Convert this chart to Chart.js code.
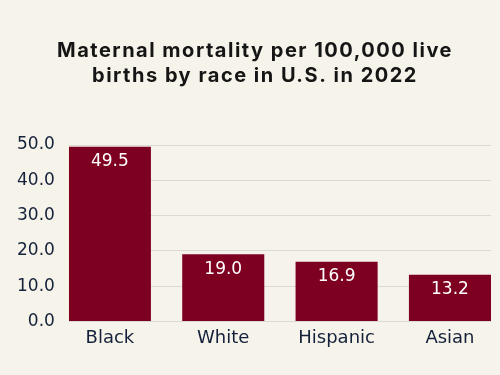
<!DOCTYPE html>
<html>
<head>
<meta charset="utf-8">
<script src="https://cdn.jsdelivr.net/npm/chart.js@4"></script>
<style>
html,body{margin:0;padding:0;background:#f6f3ea;}
#wrap{width:500px;height:375px;}
</style>
</head>
<body>
<div id="wrap"><canvas id="c" width="500" height="375"></canvas></div>
<script>
const categories = ["Black", "White", "Hispanic", "Asian"];
const values = [49.5, 19.0, 16.9, 13.2];
const yTicks = [0, 10, 20, 30, 40, 50];
const titleLines = ["Maternal mortality per 100,000 live", "births by race in U.S. in 2022"];

const bg = {
  id: 'bg',
  beforeDraw(chart) {
    const ctx = chart.ctx;
    ctx.save();
    ctx.fillStyle = '#f6f3ea';
    ctx.fillRect(0, 0, chart.width, chart.height);
    ctx.restore();
    const tb = chart.titleBlock;
    if (tb && !tb._spaced) {
      const orig = tb.draw.bind(tb);
      tb.draw = function () {
        const c = chart.ctx;
        c.save();
        c.letterSpacing = '1.5px';
        c.translate(8, 0);
        orig();
        c.restore();
      };
      tb._spaced = true;
    }
  }
};
const labels = {
  id: 'vlabels',
  afterDatasetsDraw(chart) {
    const ctx = chart.ctx;
    const meta = chart.getDatasetMeta(0);
    ctx.save();
    ctx.fillStyle = '#ffffff';
    ctx.font = '17px "DejaVu Sans"';
    ctx.textAlign = 'center';
    ctx.textBaseline = 'middle';
    meta.data.forEach((el, i) => {
      ctx.fillText(values[i].toFixed(1), el.x, el.y + 15);
    });
    ctx.restore();
  }
};

new Chart(document.getElementById('c'), {
  type: 'bar',
  data: {
    datasets: [{
      data: values.map((v, i) => ({x: i, y: v})),
      backgroundColor: '#7d0020',
      borderWidth: 0,
      barPercentage: 0.724,
      categoryPercentage: 1
    }]
  },
  options: {
    responsive: false,
    animation: false,
    layout: {padding: {left: 3, right: 9, top: 0, bottom: 20}},
    plugins: {
      legend: {display: false},
      tooltip: {enabled: false},
      title: {
        display: true,
        text: titleLines,
        color: '#151515',
        font: {family: 'Inter', size: 20, weight: 'bold', lineHeight: 1.25},
        padding: {top: 38, bottom: 57}
      }
    },
    scales: {
      x: {
        type: 'linear',
        offset: false,
        min: -0.362,
        max: 3.362,
        afterBuildTicks(s) { s.ticks = categories.map((c, i) => ({value: i})); },
        ticks: {
          callback: (v) => categories[v],
          color: '#14213a',
          font: {family: 'DejaVu Sans', size: 18},
          padding: 6,
          maxRotation: 0
        },
        grid: {display: false, drawTicks: false},
        border: {display: false}
      },
      y: {
        min: 0,
        max: 50,
        afterBuildTicks(s) { s.ticks = yTicks.map(v => ({value: v})); },
        ticks: {
          callback: (v) => v.toFixed(1),
          color: '#14213a',
          font: {family: 'DejaVu Sans', size: 17},
          padding: 14
        },
        grid: {color: '#dcd9d0', drawTicks: false},
        border: {display: false}
      }
    }
  },
  plugins: [bg, labels]
});
</script>
</body>
</html>
